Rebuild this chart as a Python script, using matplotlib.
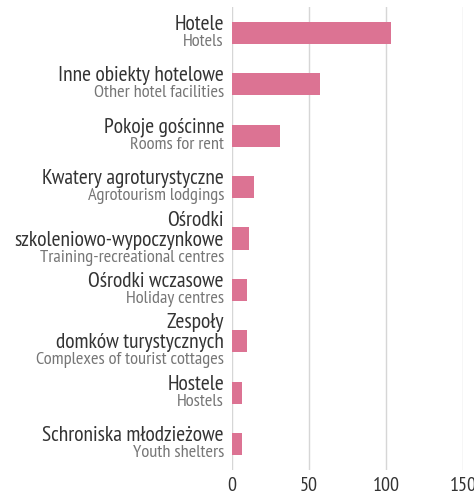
import matplotlib
matplotlib.use("Agg")
import matplotlib.pyplot as plt
from matplotlib import font_manager

names = {f.name for f in font_manager.fontManager.ttflist}
wanted = ["PT Sans Narrow", "Fira Sans Condensed", "Open Sans Condensed", "Roboto Condensed",
          "Barlow Semi Condensed", "Archivo Narrow"]
font = [n for n in wanted if n in names][:1]
plt.rcParams['font.family'] = font + ['DejaVu Sans']

labels_pl = ["Hotele", "Inne obiekty hotelowe", "Pokoje gościnne", "Kwatery agroturystyczne",
             "Ośrodki\nszkoleniowo-wypoczynkowe", "Ośrodki wczasowe",
             "Zespoły\ndomków turystycznych", "Hostele", "Schroniska młodzieżowe"]
labels_en = ["Hotels", "Other hotel facilities", "Rooms for rent", "Agrotourism lodgings",
             "Training-recreational centres", "Holiday centres",
             "Complexes of tourist cottages", "Hostels", "Youth shelters"]
values = [103, 57, 31, 14, 11, 10, 10, 6.5, 6.5]
ticks = [0, 50, 100, 150]

fig = plt.figure(figsize=(4.74, 4.94), dpi=100)
ax = fig.add_axes([232/474, 24/494, 231/474, 463/494])

y = list(range(len(values)))
ax.barh(y, values, height=0.43, color="#dc7393", zorder=2)
ax.set_ylim(len(values) - 0.5, -0.5)
ax.set_xlim(0, 150)
ax.set_xticks(ticks)
ax.set_yticks([])
ax.grid(axis="x", color="#d6d6d6", lw=1, zorder=0)
for s in ax.spines.values():
    s.set_visible(False)
ax.tick_params(axis="x", length=0, labelsize=14.5, labelcolor="#333333", pad=5)

for i, (pl, en) in enumerate(zip(labels_pl, labels_en)):
    lines = pl.split("\n")
    n = len(lines)
    en_base = 13 + 10 * (n - 1)
    ax.annotate(en, (0, i), xytext=(-8, -en_base), textcoords="offset pixels",
                ha="right", va="baseline", fontsize=13.2, color="#767676")
    for k, line in enumerate(lines):
        off = en_base - 16 - 20 * (n - 1 - k)
        ax.annotate(line, (0, i), xytext=(-8, -off), textcoords="offset pixels",
                    ha="right", va="baseline", fontsize=15.5, color="#333333")

fig.savefig("out.png", dpi=100)
